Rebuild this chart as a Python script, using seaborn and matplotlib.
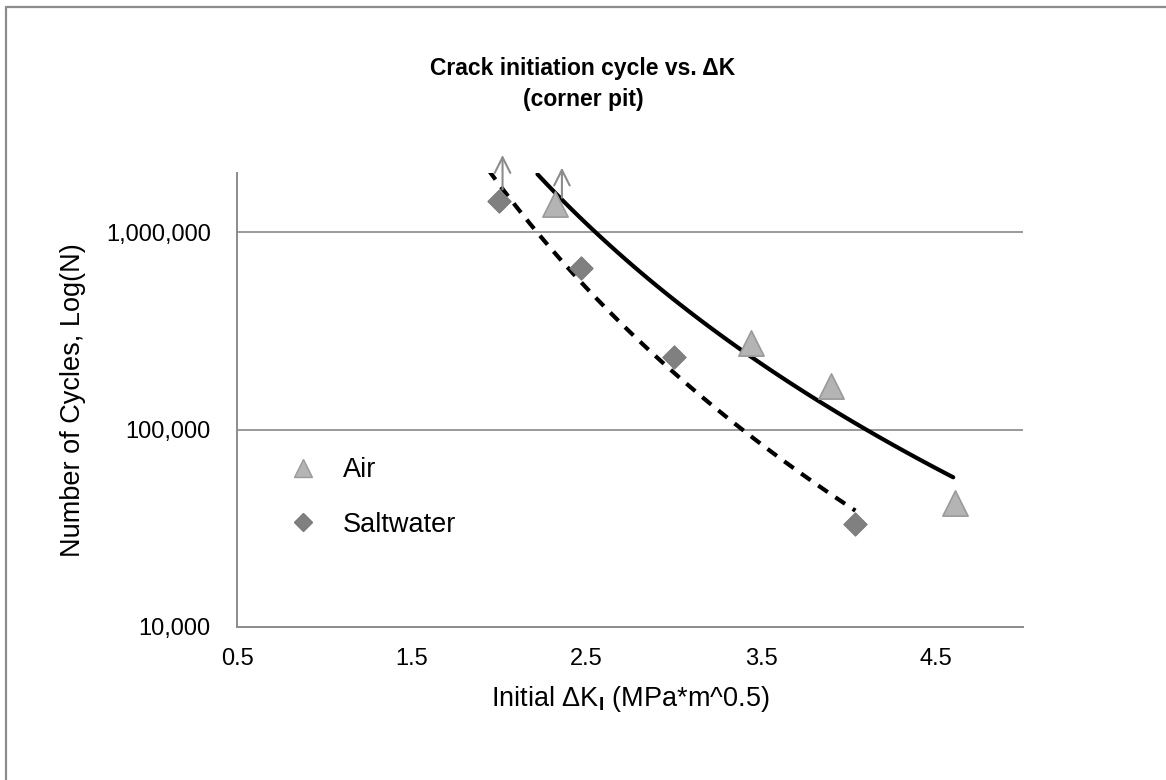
import numpy as np
import pandas as pd
import matplotlib.pyplot as plt
import seaborn as sns
from matplotlib.lines import Line2D

# Data
air_dk = [2.32, 3.44, 3.90, 4.61]
air_cycles = [1.40e6, 2.74e5, 1.66e5, 4.27e4]
salt_dk = [2.00, 2.47, 3.00, 4.04]
salt_cycles = [1.45e6, 6.58e5, 2.33e5, 3.34e4]

# power-law trendline ranges (as drawn)
air_fit_range = [2.22, 4.60]
salt_fit_range = [1.94, 4.04]

# run-out arrows (x, start, end)
arrow_x = [2.02, 2.36]
arrow_from = [1.60e6, 1.45e6]
arrow_to = [2.55e6, 2.2e6]

x_ticks = [0.5, 1.5, 2.5, 3.5, 4.5]
y_ticks = [1e4, 1e5, 1e6]
y_tick_labels = ['10,000', '100,000', '1,000,000']

sns.set_style('white')
plt.rcParams['font.family'] = ['Liberation Sans', 'DejaVu Sans']
plt.rcParams['mathtext.fontset'] = 'custom'
plt.rcParams['mathtext.rm'] = 'Liberation Sans'
plt.rcParams['mathtext.bf'] = 'Liberation Sans:bold'
plt.rcParams['text.color'] = 'black'
plt.rcParams['axes.labelcolor'] = 'black'

points = pd.concat([
    pd.DataFrame({'dk': air_dk, 'cycles': air_cycles, 'env': 'Air'}),
    pd.DataFrame({'dk': salt_dk, 'cycles': salt_cycles, 'env': 'Saltwater'}),
])

fig = plt.figure(figsize=(11.66, 7.8), dpi=100)
ax = fig.add_axes([0.2033, 0.1962, 0.6741, 0.5820])


def power_fit(x, y, xr):
    # same as Excel power trendline: straight line in log-log space
    b, a = np.polyfit(np.log(x), np.log(y), 1)
    xs = np.linspace(xr[0], xr[1], 100)
    return xs, np.exp(a) * xs ** b


xs, ys = power_fit(air_dk, air_cycles, air_fit_range)
sns.lineplot(x=xs, y=ys, ax=ax, color='black', linewidth=3, estimator=None, sort=False)
xs, ys = power_fit(salt_dk, salt_cycles, salt_fit_range)
sns.lineplot(x=xs, y=ys, ax=ax, color='black', linewidth=3, estimator=None, sort=False,
             linestyle=(0, (2.8, 2.2)))

sns.scatterplot(data=points[points.env == 'Air'], x='dk', y='cycles', ax=ax,
                marker='^', s=330, color='#b4b4b4', edgecolor='#9a9a9a', linewidth=1.2,
                zorder=3)
sns.scatterplot(data=points[points.env == 'Saltwater'], x='dk', y='cycles', ax=ax,
                marker='D', s=140, color='#808080', edgecolor='#7a7a7a', linewidth=0.8,
                zorder=3)

for x, y0, y1 in zip(arrow_x, arrow_from, arrow_to):
    ax.annotate('', xy=(x, y1), xytext=(x, y0),
                arrowprops=dict(arrowstyle='->', color='#8c8c8c', lw=1.5,
                                mutation_scale=28),
                annotation_clip=False, zorder=4)

ax.set_yscale('log')
ax.set_xlim(0.5, 5.0)
ax.set_ylim(1e4, 2e6)
ax.set_xticks(x_ticks)
ax.set_xticklabels([str(v) for v in x_ticks])
ax.set_yticks(y_ticks)
ax.set_yticklabels(y_tick_labels)
ax.minorticks_off()
ax.tick_params(axis='both', labelsize=17, colors='#8c8c8c', labelcolor='black',
               length=5, width=1.3, direction='out')
ax.tick_params(axis='y', pad=14)
ax.tick_params(axis='x', pad=10)
ax.yaxis.grid(True, color='#9a9a9a', linewidth=1.4)
ax.set_axisbelow(True)
for side in ['top', 'right']:
    ax.spines[side].set_visible(False)
for side in ['left', 'bottom']:
    ax.spines[side].set_color('#8c8c8c')
    ax.spines[side].set_linewidth(1.4)

ax.set_xlabel('Initial ΔK$_\\mathbf{I}$ (MPa*m^0.5)', fontsize=19.5, labelpad=10)
ax.set_ylabel('Number of Cycles, Log(N)', fontsize=19.5, labelpad=14)

fig.text(0.5, 1 - 84 / 780, 'Crack initiation cycle vs. ΔK\n(corner pit)',
         ha='center', va='center', fontsize=16.5, fontweight='bold',
         linespacing=1.4, color='black')

# legend, no frame
handles = [
    Line2D([], [], marker='^', linestyle='none', markersize=13,
           markerfacecolor='#b4b4b4', markeredgecolor='#9a9a9a'),
    Line2D([], [], marker='D', linestyle='none', markersize=9,
           markerfacecolor='#808080', markeredgecolor='#7a7a7a'),
]
ax.legend(handles, ['Air', 'Saltwater'], loc='upper left',
          bbox_to_anchor=(0.036, 0.398), frameon=False, fontsize=19.5,
          labelspacing=1.05, handletextpad=0.45, borderaxespad=0,
          labelcolor='black')

# outer chart frame (left and top edges visible)
fig.add_artist(Line2D([6 / 1166, 6 / 1166], [0, 1 - 7 / 780],
                      transform=fig.transFigure, color='#8c8c8c', lw=1.6))
fig.add_artist(Line2D([6 / 1166, 1], [1 - 7 / 780, 1 - 7 / 780],
                      transform=fig.transFigure, color='#8c8c8c', lw=1.6))

plt.savefig('out.png', dpi=100)
